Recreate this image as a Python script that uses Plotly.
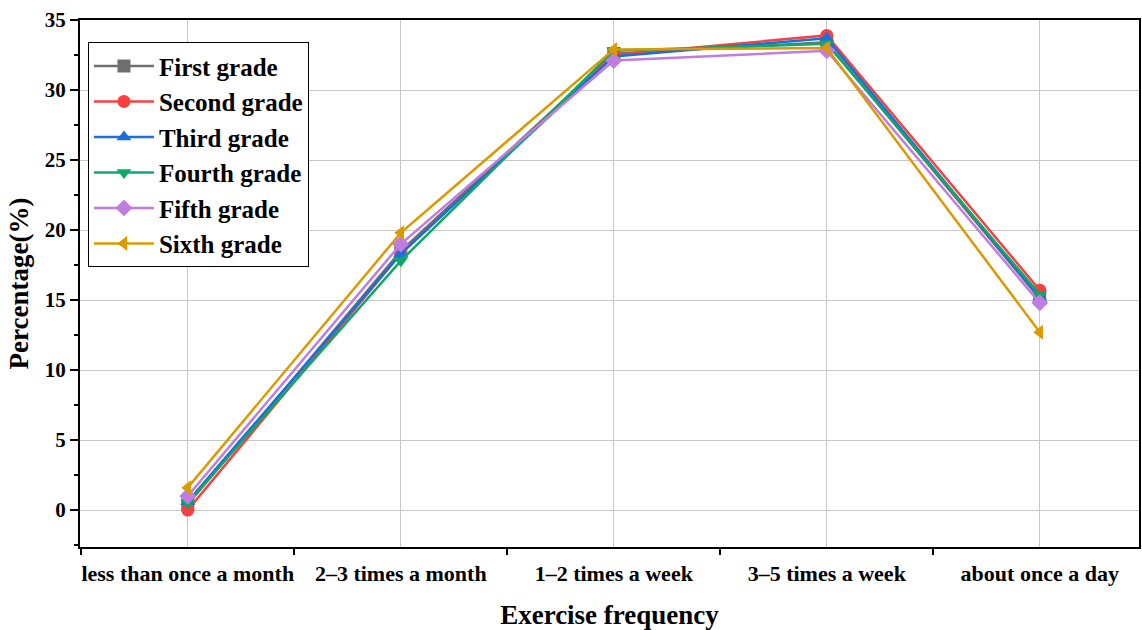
import plotly.graph_objects as go

categories = ["less than once a month", "2–3 times a month", "1–2 times a week",
              "3–5 times a week", "about once a day"]
series_names = ["First grade", "Second grade", "Third grade", "Fourth grade", "Fifth grade", "Sixth grade"]
first_grade = [0.4, 18.5, 32.6, 33.4, 15.1]
second_grade = [0.0, 18.3, 32.5, 33.9, 15.7]
third_grade = [0.6, 18.3, 32.4, 33.7, 15.2]
fourth_grade = [0.5, 17.8, 32.8, 33.3, 15.4]
fifth_grade = [1.0, 19.0, 32.1, 32.8, 14.8]
sixth_grade = [1.6, 19.8, 32.9, 33.0, 12.7]
series_values = [first_grade, second_grade, third_grade, fourth_grade, fifth_grade, sixth_grade]
colors = ["#6f6f6f", "#F94040", "#1A6FDF", "#0FA86B", "#C07CE0", "#DB9A00"]
symbols = ["square", "circle", "triangle-up", "triangle-down", "diamond", "triangle-left"]
y_ticks = [0, 5, 10, 15, 20, 25, 30, 35]

FONT = "Liberation Serif"

fig = go.Figure()
for name, vals, c, s in zip(series_names, series_values, colors, symbols):
    fig.add_trace(go.Scatter(
        x=categories, y=vals, name=name, mode="lines+markers",
        line=dict(color=c, width=2.5),
        marker=dict(symbol=s, size=13, color=c, line=dict(width=0)),
    ))

# invisible trace to activate boundary-tick axis
fig.add_trace(go.Scatter(x=[0], y=[0], xaxis="x2", showlegend=False,
                         mode="markers", marker=dict(opacity=0), hoverinfo="skip"))

xr = [-0.506, 4.466]
fig.update_layout(
    width=1142, height=630,
    margin=dict(l=80, r=1, t=20, b=83),
    paper_bgcolor="white", plot_bgcolor="white",
    font=dict(family=FONT, color="black"),
    xaxis=dict(
        type="category", range=xr,
        showgrid=True, gridcolor="#c8c8c8", gridwidth=1,
        showline=True, linecolor="black", linewidth=1.5, mirror=True,
        ticks="", ticklabelstandoff=6,
        tickfont=dict(family=FONT, size=22, color="black", weight="bold"),
        title=dict(text="<b>Exercise frequency</b>", font=dict(family=FONT, size=27), standoff=22),
        zeroline=False,
    ),
    xaxis2=dict(
        overlaying="x", range=xr, tickmode="array", tickvals=[-0.5, 0.5, 1.5, 2.5, 3.5, 4.5],
        showticklabels=False, ticks="outside", ticklen=7, tickwidth=1.5, tickcolor="black",
        showgrid=False, zeroline=False, side="bottom", showline=False,
    ),
    yaxis=dict(
        range=[-2.64, 35], tickmode="array", tickvals=y_ticks,
        showgrid=True, gridcolor="#c8c8c8", gridwidth=1,
        showline=True, linecolor="black", linewidth=2, mirror=True,
        ticks="outside", ticklen=8, tickwidth=1.5, tickcolor="black",
        minor=dict(tickmode="array", tickvals=[-2.5, 2.5, 7.5, 12.5, 17.5, 22.5, 27.5, 32.5],
                   ticks="outside", ticklen=4, tickwidth=1.5, tickcolor="black", showgrid=False),
        tickfont=dict(family=FONT, size=21, color="black", weight="bold"),
        title=dict(text="<b>Percentage(%)</b>", font=dict(family=FONT, size=27), standoff=8),
        zeroline=False,
    ),
    legend=dict(
        x=0.0075, y=0.958, xanchor="left", yanchor="top",
        bgcolor="white", bordercolor="black", borderwidth=1,
        font=dict(family=FONT, size=25, color="black", weight="bold"),
        itemwidth=60, tracegroupgap=0,
    ),
)

fig.write_html("out.html")
